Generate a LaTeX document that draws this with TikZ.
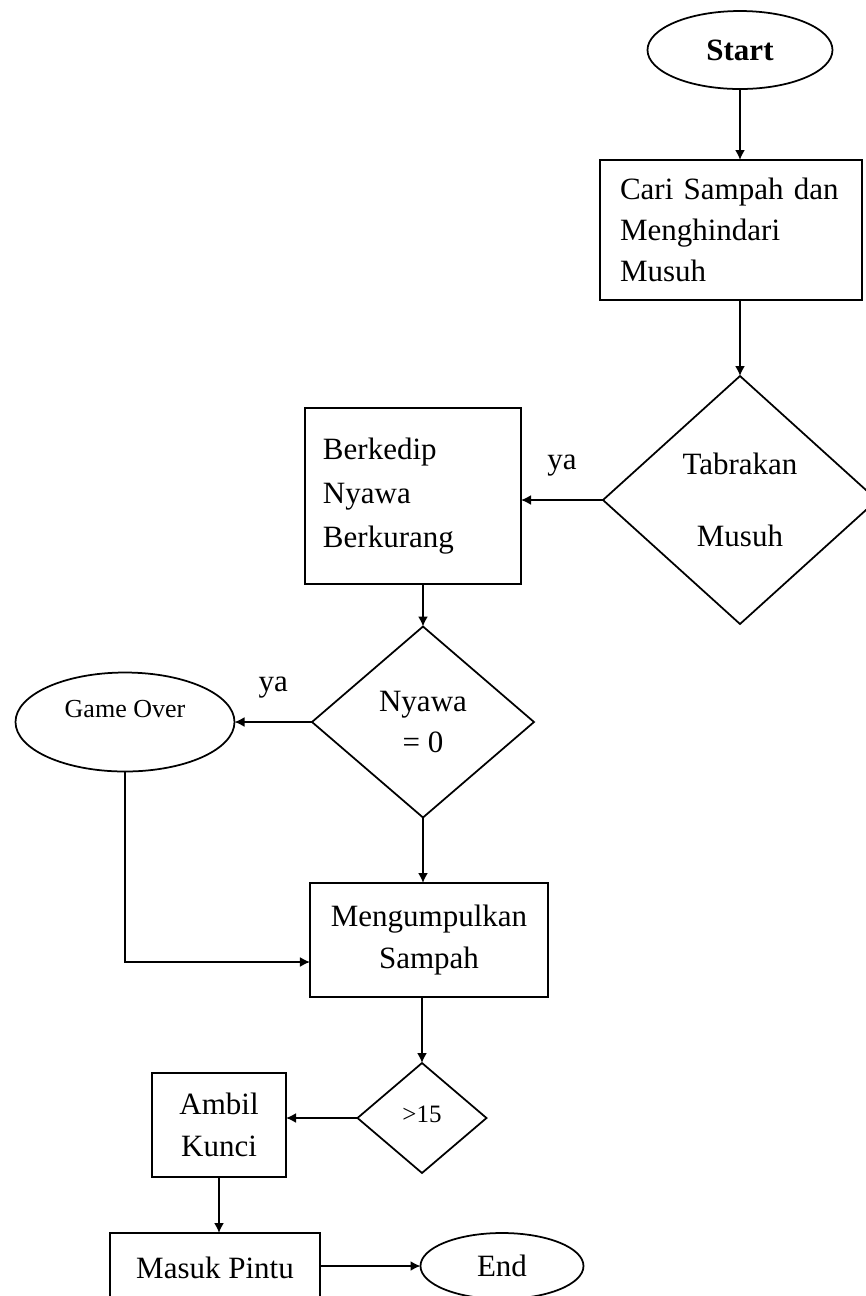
\documentclass[tikz,border=0pt]{standalone}
\usepackage{fontspec}
\setmainfont{Liberation Serif}
\usepackage{tikz}
\usetikzlibrary{shapes.geometric,arrows.meta}

\begin{document}
\begin{tikzpicture}[x=0.4pt, y=-0.4pt, line width=0.7pt,
	font=\fontsize{12.4}{16.5}\selectfont,
	arrow/.style={draw, -{Latex[length=4pt, width=4pt]}},
	kotak/.style={draw, rectangle, outer sep=0pt},
	belah/.style={draw, diamond, align=center, inner sep=0pt, outer sep=0pt},
	oval/.style={draw, ellipse, inner sep=0pt, outer sep=0pt} ]
		
		\useasboundingbox (0,0) rectangle (866,1296);
		\clip (0,0) rectangle (866,1296);
		
		% kolom kanan
		\node[oval, minimum width=74pt, minimum height=31.2pt] (start) at (740,50) {\textbf{Start}};
		\node[kotak, minimum width=104.8pt, minimum height=56pt, text width=88.8pt, align=left] (cari) at (731,230) {Cari Sampah dan\\Menghindari\\Musuh};
		\node[belah, minimum width=109.6pt, minimum height=99.2pt] (tabrakan) at (740,500) {Tabrakan\\[12pt]Musuh};
		
		% kolom tengah
		\node[kotak, minimum width=86.4pt, minimum height=70.4pt, text width=72pt, align=left] (berkedip) at (413,496) {Berkedip\\[1pt]Nyawa\\[1pt]Berkurang};
		\node[belah, minimum width=88.8pt, minimum height=76.4pt] (nyawa) at (423,722) {Nyawa\\= 0};
		\node[oval, minimum width=87.6pt, minimum height=39.6pt, font=\fontsize{10.4}{12}\selectfont, text depth=10.4pt] (gameover) at (125,722) {Game Over};
		\node[kotak, minimum width=95.2pt, minimum height=45.6pt, align=center] (kumpul) at (429,940) {Mengumpulkan\\Sampah};
		\node[belah, minimum width=51.6pt, minimum height=44pt, font=\fontsize{10}{12}\selectfont] (cek) at (422,1118) {\raisebox{3pt}{>15}};
		
		% bawah
		\node[kotak, minimum width=53.6pt, minimum height=41.6pt, align=center] (ambil) at (219,1125) {Ambil\\Kunci};
		\node[kotak, minimum width=84pt, minimum height=28pt] (masuk) at (215,1268) {Masuk Pintu};
		\node[oval, minimum width=65.2pt, minimum height=26.4pt] (end) at (502,1266) {End};
		
		\draw[arrow] (start) -- (start |- cari.north);
		\draw[arrow] (cari.south -| tabrakan.north) -- (tabrakan.north);
		\draw[arrow] (tabrakan.west) -- (tabrakan.west -| berkedip.east) node[midway, above=6pt] {ya};
		\draw[arrow] (berkedip.south -| nyawa.north) -- (nyawa.north);
		\draw[arrow] (nyawa.west) -- (gameover.east) node[midway, above=6pt] {ya};
		\draw[arrow] (nyawa.south) -- (nyawa.south |- kumpul.north);
		\draw[arrow] (gameover.south) |- ([yshift=-8.8pt]kumpul.west);
		\draw[arrow] (kumpul.south -| cek.north) -- (cek.north);
		\draw[arrow] (cek.west) -- (cek.west -| ambil.east);
		\draw[arrow] (ambil.south) -- (ambil.south |- masuk.north);
		\draw[arrow] (masuk.east |- end.west) -- (end.west);
	\end{tikzpicture}
\end{document}
